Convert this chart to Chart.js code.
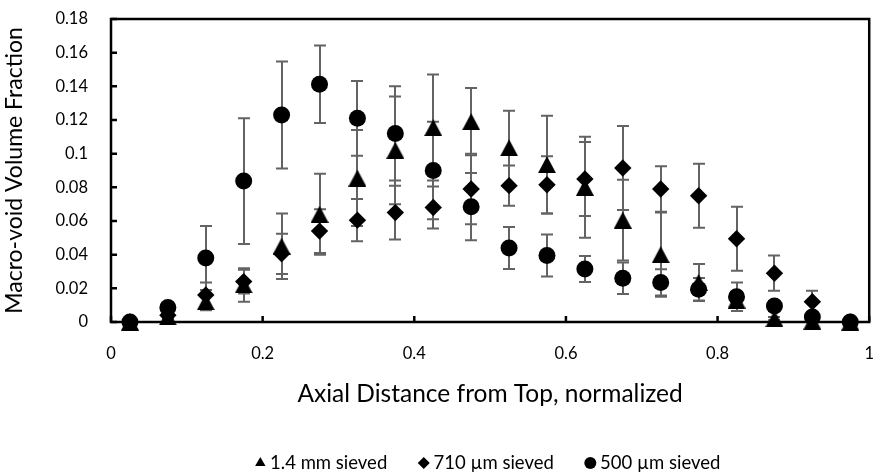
<!DOCTYPE html>
<html>
<head>
<meta charset="utf-8">
<script src="https://cdn.jsdelivr.net/npm/chart.js@4/dist/chart.umd.min.js"></script>
<style>
  html, body { margin: 0; padding: 0; background: #ffffff; }
  #wrap { width: 874px; height: 474px; }
</style>
</head>
<body>
<div id="wrap"><canvas id="chart" width="874" height="474"></canvas></div>
<script>
// Axial sampling positions (normalized distance from top)
const axialPos = [0.025, 0.075, 0.125, 0.175, 0.225, 0.275, 0.325, 0.375, 0.425, 0.475,
                  0.525, 0.575, 0.625, 0.675, 0.725, 0.775, 0.825, 0.875, 0.925, 0.975];

// 1.4 mm sieved
const sieve14mm = [0, 0.003, 0.012, 0.022, 0.045, 0.064, 0.0855, 0.102, 0.1155, 0.119,
                   0.1035, 0.0935, 0.080, 0.0605, 0.040, 0.0235, 0.013, 0.002, 0.0005, 0];
const sieve14mmErr = [0, 0.001, 0.005, 0.010, 0.0195, 0.024, 0.0285, 0.032, 0.0315, 0.020,
                      0.022, 0.029, 0.030, 0.024, 0.025, 0.011, 0.003, 0.001, 0, 0];

// 710 µm sieved
const sieve710um = [0, 0.004, 0.016, 0.024, 0.0405, 0.054, 0.0605, 0.065, 0.068, 0.079,
                    0.081, 0.0815, 0.085, 0.0915, 0.079, 0.075, 0.0495, 0.029, 0.012, 0];
const sieve710umErr = [0, 0.002, 0.0075, 0.007, 0.012, 0.013, 0.0125, 0.016, 0.0125, 0.021,
                       0.012, 0.017, 0.022, 0.025, 0.0135, 0.019, 0.019, 0.0105, 0.0065, 0];

// 500 µm sieved
const sieve500um = [0, 0.0086, 0.038, 0.0837, 0.123, 0.1412, 0.121, 0.112, 0.090, 0.0685,
                    0.044, 0.0395, 0.0315, 0.026, 0.0235, 0.0195, 0.015, 0.0095, 0.003, 0];
const sieve500umErr = [0, 0.002, 0.019, 0.0374, 0.0318, 0.023, 0.0222, 0.028, 0.029, 0.020,
                       0.0125, 0.0125, 0.0077, 0.0093, 0.0078, 0.0067, 0.0085, 0.003, 0.001, 0];

const seriesLabels = ['1.4 mm sieved', '710 µm sieved', '500 µm sieved'];

const FONT = 'Lato, "Open Sans", sans-serif';

// Upright triangle marker whose bounding box is centred on the data point
function triangleSprite(w, h) {
  const c = document.createElement('canvas');
  c.width = w; c.height = h;
  const g = c.getContext('2d');
  g.fillStyle = '#000';
  g.beginPath();
  g.moveTo(w / 2, 0);
  g.lineTo(w, h);
  g.lineTo(0, h);
  g.closePath();
  g.fill();
  return c;
}
const triMarker = triangleSprite(18, 17);

function toPoints(vals, errs) {
  return axialPos.map((x, i) => ({ x: x, y: vals[i], err: errs[i] }));
}

// Symmetric error bars drawn under the markers
const errorBars = {
  id: 'errorBars',
  beforeDatasetsDraw(chart) {
    const { ctx, scales: { x, y } } = chart;
    ctx.save();
    ctx.strokeStyle = '#636363';
    ctx.lineWidth = 2;
    chart.data.datasets.forEach((ds) => {
      ds.data.forEach((p) => {
        if (!p.err) return;
        const px = Math.round(x.getPixelForValue(p.x));
        const yHi = y.getPixelForValue(p.y + p.err);
        const yLo = y.getPixelForValue(p.y - p.err);
        ctx.beginPath();
        ctx.moveTo(px, yHi); ctx.lineTo(px, yLo);
        ctx.moveTo(px - 6, yHi); ctx.lineTo(px + 6, yHi);
        ctx.moveTo(px - 6, yLo); ctx.lineTo(px + 6, yLo);
        ctx.stroke();
      });
    });
    ctx.restore();
  }
};

// Plot frame with inward tick marks
const frame = {
  id: 'frame',
  beforeDatasetsDraw(chart) {
    const { ctx, chartArea: a, scales: { x, y } } = chart;
    ctx.save();
    ctx.strokeStyle = '#000';
    ctx.lineWidth = 2.5;
    ctx.strokeRect(a.left, a.top, a.right - a.left, a.bottom - a.top);
    ctx.beginPath();
    y.ticks.forEach((t) => {
      const py = y.getPixelForValue(t.value);
      ctx.moveTo(a.left, py); ctx.lineTo(a.left + 6, py);
    });
    x.ticks.forEach((t) => {
      const px = x.getPixelForValue(t.value);
      ctx.moveTo(px, a.bottom); ctx.lineTo(px, a.bottom - 6);
    });
    ctx.stroke();
    ctx.restore();
  }
};

const fmt = (v) => String(Number(v.toFixed(2)));

new Chart(document.getElementById('chart'), {
  type: 'scatter',
  data: {
    datasets: [
      { label: seriesLabels[0], data: toPoints(sieve14mm, sieve14mmErr), pointStyle: triMarker,
        backgroundColor: '#000', borderColor: '#000', order: 3, clip: false },
      { label: seriesLabels[1], data: toPoints(sieve710um, sieve710umErr), pointStyle: 'rectRot',
        pointRadius: 8.7, pointHoverRadius: 8.7, borderWidth: 0,
        backgroundColor: '#000', borderColor: '#000', order: 2, clip: false },
      { label: seriesLabels[2], data: toPoints(sieve500um, sieve500umErr), pointStyle: 'circle',
        pointRadius: 8.5, pointHoverRadius: 8.5, borderWidth: 0,
        backgroundColor: '#000', borderColor: '#000', order: 1, clip: false }
    ]
  },
  options: {
    responsive: false,
    animation: false,
    devicePixelRatio: 1,
    layout: { autoPadding: false, padding: { top: 19, right: 4, left: 0, bottom: -8.25 } },
    plugins: {
      tooltip: { enabled: false },
      legend: {
        position: 'bottom',
        fullSize: false,
        labels: {
          usePointStyle: true,
          boxWidth: 1,
          boxHeight: 8.5,
          padding: 36,
          color: '#000',
          font: { family: FONT, size: 18.5 },
          generateLabels(chart) {
            const styles = ['triangle', 'rectRot', 'circle'];
            return chart.data.datasets.map((ds, i) => ({
              text: ds.label,
              pointStyle: styles[i],
              fillStyle: '#000',
              strokeStyle: '#000',
              lineWidth: 0,
              fontColor: '#000',
              datasetIndex: i,
              hidden: false
            }));
          }
        }
      }
    },
    scales: {
      x: {
        type: 'linear', min: 0, max: 1,
        grid: { display: false, drawTicks: true, tickLength: 22 },
        border: { display: false },
        ticks: { stepSize: 0.2, padding: 0, color: '#000', font: { family: FONT, size: 16.5 }, callback: fmt },
        title: { display: true, text: 'Axial Distance from Top, normalized', color: '#000',
                 font: { family: FONT, size: 24.5 }, padding: { top: 16, bottom: 9 } },
        afterFit(scale) { scale.height = 95.75; }
      },
      y: {
        min: 0, max: 0.18,
        grid: { display: false, drawTicks: true, tickLength: 23 },
        border: { display: false },
        ticks: { stepSize: 0.02, padding: 0, color: '#000', font: { family: FONT, size: 16.5 }, callback: fmt },
        title: { display: true, text: 'Macro-void Volume Fraction', color: '#000',
                 font: { family: FONT, size: 23 }, padding: { top: 1, bottom: 0 } },
        afterFit(scale) { scale.width = 111; }
      }
    }
  },
  plugins: [frame, errorBars]
});
</script>
</body>
</html>
